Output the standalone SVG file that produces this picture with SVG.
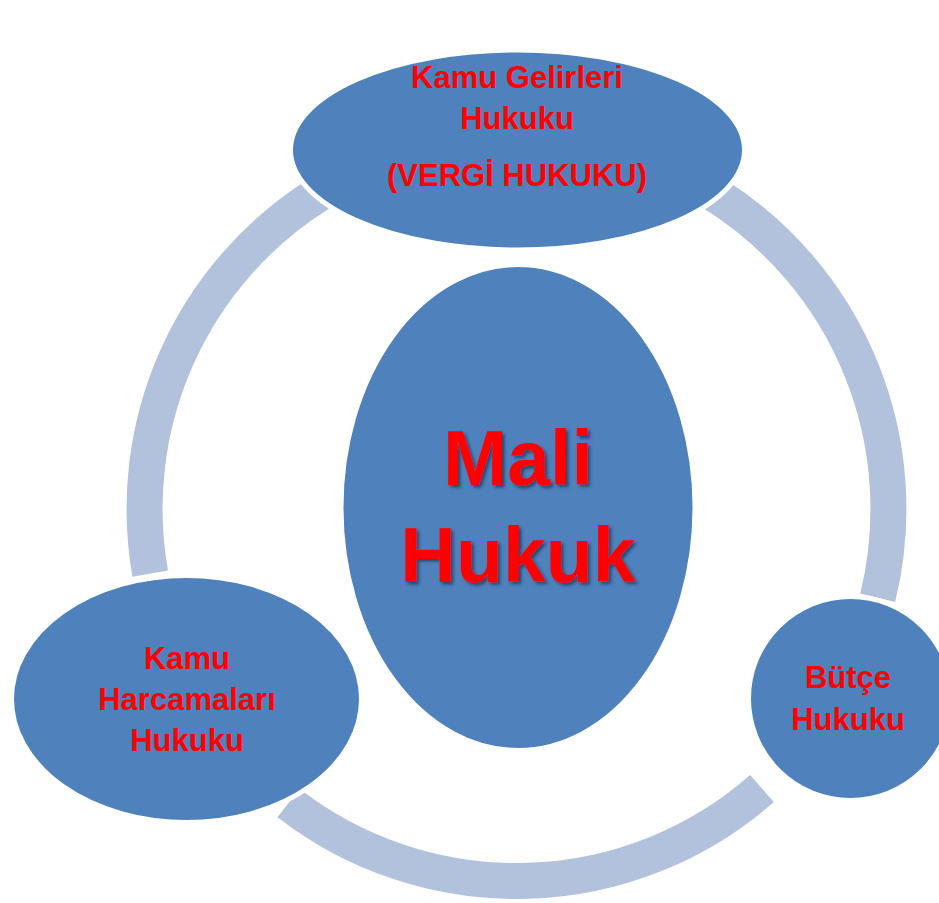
<svg xmlns="http://www.w3.org/2000/svg" width="939" height="903" viewBox="0 0 939 903">
  <defs>
    <filter id="shadow" x="-10%" y="-10%" width="130%" height="130%">
      <feDropShadow dx="2.5" dy="2.5" stdDeviation="1.5" flood-color="#1F3557" flood-opacity="0.75"/>
    </filter>
  </defs>
  <style>
    .ring { fill: none; stroke: #B2C2DD; stroke-width: 36; stroke-linecap: butt; }
    .node { fill: #4F81BD; stroke: #FFFFFF; stroke-width: 5; }
    .lbl { font-family: "Liberation Sans", Arial, sans-serif; font-weight: bold; fill: #FF0000; text-anchor: middle; }
    .s { font-size: 31px; }
    .big { font-size: 77px; }
  </style>
  <rect width="939" height="903" fill="#FFFFFF"/>
  <g id="connectors">
    <path class="ring" d="M150.2,573.6 A372,372 0 0 1 319.4,193.5"/>
    <path class="ring" d="M713.6,193.5 A372,372 0 0 1 877.7,597.7"/>
    <path class="ring" d="M762.0,788.5 A372,372 0 0 1 288.5,803.0"/>
  </g>
  <g id="node-center">
    <ellipse class="node" cx="518" cy="507.5" rx="177" ry="243"/>
    <g filter="url(#shadow)">
      <text class="lbl big" x="518" y="485">Mali</text>
      <text class="lbl big" x="518" y="582">Hukuk</text>
    </g>
  </g>
  <g id="node-top">
    <ellipse class="node" cx="517.5" cy="150" rx="227" ry="100"/>
    <text class="lbl s" x="517" y="88">Kamu Gelirleri</text>
    <text class="lbl s" x="517" y="129">Hukuku</text>
    <text class="lbl s" x="517" y="186">(VERGİ HUKUKU)</text>
  </g>
  <g id="node-left">
    <ellipse class="node" cx="186.5" cy="699" rx="175" ry="123.5"/>
    <text class="lbl s" x="187" y="669">Kamu</text>
    <text class="lbl s" x="187" y="710">Harcamaları</text>
    <text class="lbl s" x="187" y="751">Hukuku</text>
  </g>
  <g id="node-right">
    <circle class="node" cx="850.5" cy="698.5" r="102"/>
    <text class="lbl s" x="848" y="688">Bütçe</text>
    <text class="lbl s" x="848" y="730">Hukuku</text>
  </g>
</svg>
